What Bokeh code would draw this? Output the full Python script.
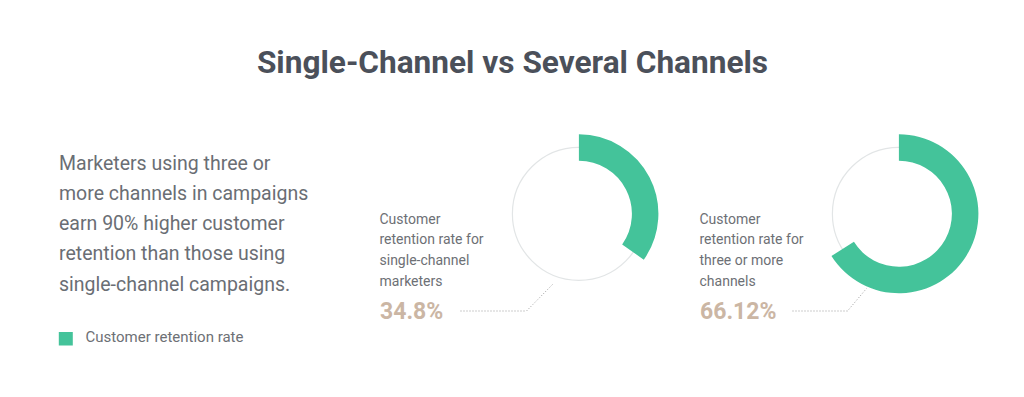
import math
from bokeh.plotting import figure
from bokeh.models import Range1d
from bokeh.core.properties import value
from bokeh.embed import file_html
from bokeh.resources import INLINE

# ---- data ----
title_text = "Single-Channel vs Several Channels"
summary_lines = ["Marketers using three or", "more channels in campaigns",
                 "earn 90% higher customer", "retention than those using",
                 "single-channel campaigns."]
legend_label = "Customer retention rate"
categories = [["Customer", "retention rate for", "single-channel", "marketers"],
              ["Customer", "retention rate for", "three or more", "channels"]]
values = [34.8, 66.12]
value_labels = ["34.8%", "66.12%"]

GREEN = "#44c39a"
TAN = "#cbb6a4"
FONT = value("Roboto")

W, H = 1008, 381
p = figure(width=W, height=H, output_backend="svg", toolbar_location=None,
           x_range=Range1d(0, W), y_range=Range1d(397 - H, 397),
           min_border=0, outline_line_color=None, background_fill_color="white")
p.axis.visible = False
p.grid.visible = False

def Y(y):  # screen pixel y -> data y
    return 397 - y

T = 8  # text baseline correction

# title
p.text(x=[512], y=[Y(74.5 - T - 5)], text=[title_text], text_font=FONT, text_font_size="31.6px",
       text_font_style="bold", text_color="#4b505a", text_align="center",
       text_baseline="alphabetic")

# summary paragraph
p.text(x=[58.5] * len(summary_lines), y=[Y(168.3 - T + 2.5 + 30.2 * i) for i in range(len(summary_lines))],
       text=summary_lines, text_font=FONT, text_font_size="19.5px", text_color="#6a6e74",
       text_baseline="alphabetic")

# legend
p.rect(x=[65.3], y=[Y(338.3)], width=14, height=13.5, fill_color=GREEN, line_color=None)
p.text(x=[85], y=[Y(344 - T)], text=[legend_label], text_font=FONT, text_font_size="15px",
       text_color="#6d7075", text_baseline="alphabetic")

# donuts
cx0, cy0, dx = 578.4, 213.3, 320
for i, (v, lines, lab) in enumerate(zip(values, categories, value_labels)):
    cx = cx0 + dx * i
    p.circle(x=[cx], y=[Y(cy0)], radius=66.5, radius_units="screen",
             fill_color=None, line_color="#e2e5e6", line_width=1.2)
    frac = v / 100.0
    p.annular_wedge(x=[cx], y=[Y(cy0)], inner_radius=53, outer_radius=79.5,
                    inner_radius_units="screen", outer_radius_units="screen",
                    start_angle=math.pi / 2 - frac * 2 * math.pi, end_angle=math.pi / 2,
                    direction="anticlock", fill_color=GREEN, line_color=None)
    lx = 379 + dx * i
    p.text(x=[lx] * len(lines), y=[Y(225 - T + 1 + 20.8 * k) for k in range(len(lines))],
           text=lines, text_font=FONT, text_font_size="14px", text_color="#6d7075",
           text_baseline="alphabetic")
    p.text(x=[lx + 0.5], y=[Y(318.8 - T)], text=[lab], text_font=FONT, text_font_size="23px",
           text_font_style="bold", text_color=TAN, text_baseline="alphabetic")

# leader lines
leaders = [[(460, 310.5), (526, 310.5), (552, 284)],
           [(792, 310.5), (847, 310.5), (866, 288)]]
for pts in leaders:
    p.line(x=[a for a, b in pts], y=[Y(b) for a, b in pts], line_color="#9a9a9a",
           line_width=1, line_dash="1 2")

open("out.html", "w").write(file_html(p, INLINE))
